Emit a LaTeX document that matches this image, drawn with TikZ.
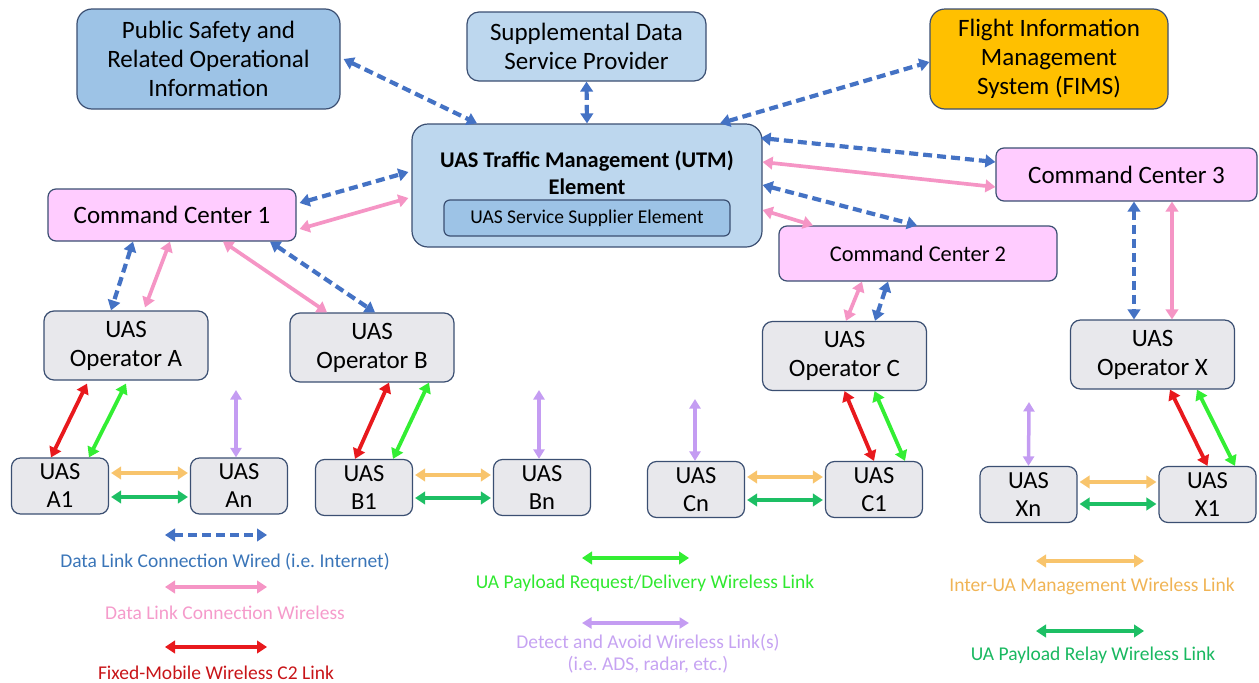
\documentclass[tikz,border=0pt]{standalone}
\usepackage{fontspec}
\setmainfont{Carlito}
\usetikzlibrary{arrows.meta,calc}
\frenchspacing
\definecolor{wblue}{HTML}{4472C4}
\definecolor{pinkc}{HTML}{F595C5}
\definecolor{redc}{HTML}{E8191D}
\definecolor{payg}{HTML}{33EE33}
\definecolor{relayg}{HTML}{1DBF64}
\definecolor{orangec}{HTML}{F8C46C}
\definecolor{purplec}{HTML}{C49CF2}
\definecolor{bord}{HTML}{3B4F72}
\definecolor{grayfill}{HTML}{E8E8EC}
\definecolor{pinkfill}{HTML}{FFCCFF}
\definecolor{lblue}{HTML}{BDD7EE}
\definecolor{psblue}{HTML}{9DC3E6}
\definecolor{fimsor}{HTML}{FFC000}
\definecolor{tblue}{HTML}{3A75B8}
\definecolor{tpink}{HTML}{F59BCB}
\definecolor{tred}{HTML}{C81418}
\definecolor{tgreen}{HTML}{30E830}
\definecolor{tpurple}{HTML}{C6A3F2}
\definecolor{torange}{HTML}{F0B455}
\definecolor{trelay}{HTML}{19B860}
\tikzset{
  box/.style={draw=bord, line width=1.2pt, rounded corners=12pt, align=center, inner sep=0pt,
    font=\fontsize{25}{29}\selectfont},
  cbox/.style={box, fill=pinkfill, rounded corners=8pt},
  obox/.style={box, fill=grayfill, minimum width=164pt, minimum height=69pt, rounded corners=10pt},
  ubox/.style={box, fill=grayfill, minimum width=97pt, minimum height=56pt, rounded corners=9pt,
    font=\fontsize{24.5}{28}\selectfont},
  tip/.style={{Triangle[length=10pt,width=12.5pt]}-{Triangle[length=10pt,width=12.5pt]}},
  stip/.style={{Triangle[length=9.5pt,width=11pt]}-{Triangle[length=9.5pt,width=11pt]}},
  wired/.style={draw=wblue, line width=4.2pt, dash pattern=on 9pt off 5pt, tip},
  wless/.style={draw=pinkc, line width=3.7pt, tip},
  c2/.style={draw=redc, line width=3.8pt, tip},
  pay/.style={draw=payg, line width=3.8pt, tip},
  relay/.style={draw=relayg, line width=3.8pt, tip},
  inter/.style={draw=orangec, line width=3.8pt, tip},
  daa/.style={draw=purplec, line width=3.5pt, stip},
  legtext/.style={font=\fontsize{19.5}{22}\selectfont, align=center, inner sep=0pt}
}
\begin{document}
\begin{tikzpicture}[x=1pt,y=-1pt]
\useasboundingbox (0,0) rectangle (1259,683);

% top boxes
\node[box, fill=psblue, minimum width=263pt, minimum height=100pt, rounded corners=15pt] (ps) at (208.5,59) {Public Safety and\\Related Operational\\Information};
\node[box, fill=lblue, minimum width=239pt, minimum height=69pt] (sd) at (586.5,46.5) {Supplemental Data\\Service Provider};
\node[box, fill=fimsor, minimum width=238pt, minimum height=100pt, rounded corners=15pt] (fims) at (1049,59) {Flight Information\\Management\\System (FIMS)};

% UTM
\node[box, fill=lblue, minimum width=350pt, minimum height=123pt, rounded corners=16pt] (utm) at (587,185.5) {};
\node[align=center, inner sep=0pt, font=\fontsize{22.4}{27}\selectfont\bfseries] (utmtxt) at (587,173) {UAS Traffic Management (UTM)\\Element};
\node[box, fill=psblue, minimum width=286pt, minimum height=36pt, rounded corners=6pt, font=\fontsize{19.5}{23}\selectfont] (uss) at (587,218) {UAS Service Supplier Element};

% command centers
\node[cbox, minimum width=248pt, minimum height=52pt] (cc1) at (172,215) {Command Center 1};
\node[cbox, minimum width=261pt, minimum height=53pt] (cc3) at (1126.5,174.5) {Command Center 3};
\node[cbox, minimum width=278pt, minimum height=55pt, font=\fontsize{22.4}{27}\selectfont] (cc2) at (918,253.5) {Command Center 2};

% operators
\node[obox] (opA) at (126,345.5) {UAS\\Operator A};
\node[obox] (opB) at (372,347.5) {UAS\\Operator B};
\node[obox] (opC) at (844.5,356) {UAS\\Operator C};
\node[obox] (opX) at (1152.5,354.5) {UAS\\Operator X};

% UAS
\node[ubox] (a1) at (60,486) {UAS\\A1};
\node[ubox] (an) at (239,486) {UAS\\An};
\node[ubox] (b1) at (364,487.5) {UAS\\B1};
\node[ubox] (bn) at (542,487.5) {UAS\\Bn};
\node[ubox] (cn) at (696,489.5) {UAS\\Cn};
\node[ubox] (c1) at (874,489.5) {UAS\\C1};
\node[ubox] (xn) at (1028.5,494.5) {UAS\\Xn};
\node[ubox] (x1) at (1207.5,494.5) {UAS\\X1};

\coordinate (pa) at (236,390);
\coordinate (pb) at (539,390);
\coordinate (pc) at (695,399);
\coordinate (px) at (1029,402);

% top connectors
\draw[wired] ([xshift=3pt]ps.east) -- ([xshift=-110pt]utm.north);
\draw[wired] (sd.south) -- (utm.north);
\draw[wired] ([xshift=133pt]utm.north) -- ([yshift=-3pt]fims.west);
\draw[wired] ([xshift=3pt,yshift=12pt]cc1.east) -- ([xshift=-3pt,yshift=13.5pt]utm.west);
\draw[wless] ([xshift=3pt,yshift=-14pt]cc1.east) -- ([xshift=-3pt,yshift=-12.5pt]utm.west);
\draw[wired] ([xshift=-2pt,yshift=47.5pt]utm.east) -- ([yshift=12.5pt]cc3.west);
\draw[wless] ([yshift=23.5pt]utm.east) -- ([yshift=-12.5pt]cc3.west);
\draw[wired] ([yshift=0.5pt]utm.east) -- ([xshift=-1pt]cc2.north);
\draw[wless] ([yshift=-24.5pt]utm.east) -- ([xshift=-105pt]cc2.north);
\draw[wired] ([xshift=7.5pt]cc3.south) -- ([xshift=-18.5pt]opX.north);
\draw[wless] ([xshift=45.5pt]cc3.south) -- ([xshift=19.5pt]opX.north);
\draw[wless] ([xshift=-56pt]cc2.south) -- ([xshift=1.5pt]opC.north);
\draw[wired] ([xshift=-30pt]cc2.south) -- ([xshift=30.5pt]opC.north);
\draw[wired] ([xshift=-39pt]cc1.south) -- ([xshift=-15pt]opA.north);
\draw[wless] ([xshift=-2pt]cc1.south) -- ([xshift=19pt,yshift=3pt]opA.north);
\draw[wless] ([xshift=51pt]cc1.south) -- ([xshift=-45pt]opB.north);
\draw[wired] ([xshift=98pt]cc1.south) -- ([xshift=3pt]opB.north);

% operator A
\draw[c2] ([xshift=-9pt]a1.north) -- ([xshift=-39pt,yshift=-3pt]opA.south);
\draw[pay] ([xshift=29pt]a1.north) -- ([yshift=-3pt]opA.south);
\draw[daa] ([xshift=-3pt]an.north) -- (pa);
\draw[inter] ([xshift=2pt,yshift=13pt]a1.east) -- ([xshift=-2pt,yshift=13pt]an.west);
\draw[relay] ([xshift=2pt,yshift=-11pt]a1.east) -- ([xshift=-2pt,yshift=-11pt]an.west);
% operator B
\draw[c2] ([xshift=-9pt]b1.north) -- ([xshift=17pt]opB.south);
\draw[pay] ([xshift=29pt]b1.north) -- ([xshift=57pt]opB.south);
\draw[daa] ([xshift=-3pt]bn.north) -- (pb);
\draw[inter] ([xshift=2pt,yshift=12.5pt]b1.east) -- ([xshift=-2pt,yshift=12.5pt]bn.west);
\draw[relay] ([xshift=2pt,yshift=-10.5pt]b1.east) -- ([xshift=-2pt,yshift=-10.5pt]bn.west);
% operator C
\draw[c2] (opC.south) -- (c1.north);
\draw[pay] ([xshift=30pt]opC.south) -- ([xshift=31pt]c1.north);
\draw[daa] ([xshift=-1pt]cn.north) -- (pc);
\draw[inter] ([xshift=2pt,yshift=12.5pt]cn.east) -- ([xshift=-2pt,yshift=12.5pt]c1.west);
\draw[relay] ([xshift=2pt,yshift=-10.5pt]cn.east) -- ([xshift=-2pt,yshift=-10.5pt]c1.west);
% operator X
\draw[c2] ([xshift=17.5pt]opX.south) -- (x1.north);
\draw[pay] ([xshift=44.5pt]opX.south) -- ([xshift=27.5pt]x1.north);
\draw[daa] (xn.north) -- (px);
\draw[inter] ([xshift=2pt,yshift=12.5pt]xn.east) -- ([xshift=-2pt,yshift=12.5pt]x1.west);
\draw[relay] ([xshift=2pt,yshift=-9.5pt]xn.east) -- ([xshift=-2pt,yshift=-9.5pt]x1.west);

% legend
\coordinate (l1a) at (165,535); \coordinate (l1b) at (267,535);
\coordinate (l2a) at (165,587); \coordinate (l2b) at (267,587);
\coordinate (l3a) at (165,647); \coordinate (l3b) at (267,647);
\coordinate (l4a) at (582,558); \coordinate (l4b) at (689,558);
\coordinate (l5a) at (582,623); \coordinate (l5b) at (689,623);
\coordinate (l6a) at (1036,561); \coordinate (l6b) at (1144,561);
\coordinate (l7a) at (1036,631); \coordinate (l7b) at (1144,631);
\draw[wired] (l1a) -- (l1b);
\draw[wless] (l2a) -- (l2b);
\draw[c2] (l3a) -- (l3b);
\draw[pay] (l4a) -- (l4b);
\draw[daa] (l5a) -- (l5b);
\draw[inter] (l6a) -- (l6b);
\draw[relay] (l7a) -- (l7b);
\node[legtext, text=tblue] (t1) at (225,562) {Data Link Connection Wired (i.e. Internet)};
\node[legtext, text=tpink] (t2) at (225,613) {Data Link Connection Wireless};
\node[legtext, text=tred] (t3) at (216,673) {Fixed-Mobile Wireless C2 Link};
\node[legtext, text=tgreen] (t4) at (645,583) {UA Payload Request/Delivery Wireless Link};
\node[legtext, text=tpurple] (t5) at (648,654) {Detect and Avoid Wireless Link(s)\\(i.e. ADS, radar, etc.)};
\node[legtext, text=torange] (t6) at (1092,586) {Inter-UA Management Wireless Link};
\node[legtext, text=trelay] (t7) at (1093,655) {UA Payload Relay Wireless Link};
\end{tikzpicture}
\end{document}
